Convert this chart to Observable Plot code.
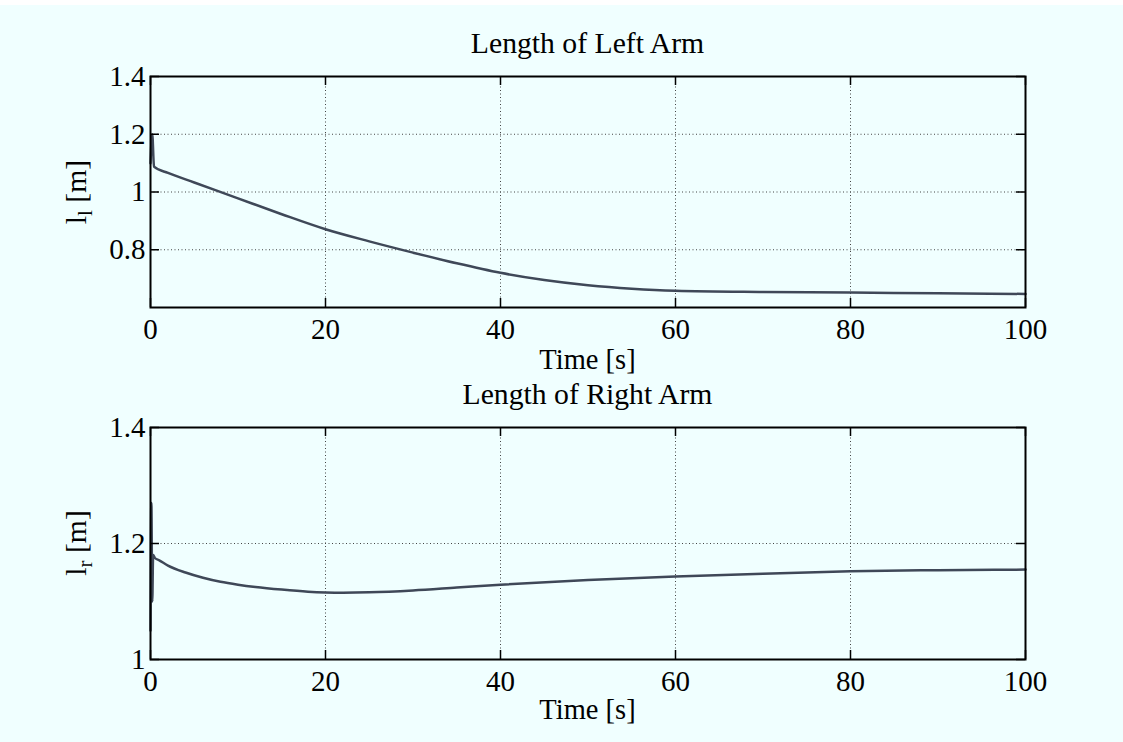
<!DOCTYPE html>
<html>
<head>
<meta charset="utf-8">
<script src="https://cdn.jsdelivr.net/npm/d3@7"></script>
<script src="https://cdn.jsdelivr.net/npm/@observablehq/plot@0.6"></script>
<style>
  html, body { margin: 0; padding: 0; background: #f0ffff; }
  #wrap { position: relative; width: 1123px; height: 742px; background: #f0ffff; overflow: hidden; font-family: "Liberation Serif", "Times New Roman", serif; color: #000; }
  #topstrip { position: absolute; left: 0; top: 0; width: 1123px; height: 5px; background: #ffffff; }
  .panel { position: absolute; left: 0; }
  .title, .xlabel { position: absolute; left: 150px; width: 875px; text-align: center; font-size: 29.7px; line-height: 30px; white-space: nowrap; }
  .xlabel { font-size: 28.5px; }
  .ylabel { position: absolute; font-size: 29.7px; line-height: 30px; white-space: nowrap; transform: translate(-50%, -50%) rotate(-90deg); }
  .ylabel sub { font-size: 21px; vertical-align: -6px; line-height: 0; }
</style>
</head>
<body>
<div id="wrap">
  <div id="topstrip"></div>
  <div class="title" style="top:28px">Length of Left Arm</div>
  <div class="xlabel" style="top:345px">Time [s]</div>
  <div class="title" style="top:379px">Length of Right Arm</div>
  <div class="xlabel" style="top:695px">Time [s]</div>
  <div class="ylabel" style="left:76px; top:192px">l<sub>l</sub> [m]</div>
  <div class="ylabel" style="left:76px; top:543px">l<sub>r</sub> [m]</div>
  <div id="p1" class="panel" style="top:0px"></div>
  <div id="p2" class="panel" style="top:380px"></div>
</div>
<script>
// ---- data ----
const xTicks = [0, 20, 40, 60, 80, 100];

const leftTime = [0, 0.2, 0.4, 2, 5, 10, 15, 20, 25, 30, 35, 40, 45, 50, 55, 60, 70, 80, 90, 100];
const leftLength = [1.10, 1.20, 1.088, 1.066, 1.033, 0.978, 0.923, 0.871, 0.829, 0.79, 0.753, 0.72, 0.695, 0.677, 0.665, 0.658, 0.654, 0.652, 0.649, 0.647];
const leftYTicks = [0.8, 1, 1.2, 1.4];
const leftYDomain = [0.6, 1.4];

const rightTime = [0, 0.1, 0.2, 0.3, 0.5, 1, 2, 4, 6, 8, 10, 12, 15, 18, 20, 22, 25, 30, 35, 40, 50, 60, 70, 80, 90, 100];
const rightLength = [1.05, 1.27, 1.10, 1.18, 1.175, 1.171, 1.162, 1.15, 1.141, 1.134, 1.129, 1.125, 1.1205, 1.117, 1.1157, 1.1152, 1.1158, 1.119, 1.124, 1.129, 1.137, 1.143, 1.148, 1.152, 1.154, 1.155];
const rightYTicks = [1, 1.2, 1.4];
const rightYDomain = [1, 1.4];

function panel({times, values, yDomain, yTicks, height, marginTop, marginBottom}) {
  const width = 1123, marginLeft = 150, marginRight = 98;
  const innerH = height - marginTop - marginBottom;
  const innerW = width - marginLeft - marginRight;
  const tickLen = 9;
  const rows = times.map((t, i) => ({t, v: values[i]}));
  const gridX = xTicks.filter(d => d > 0 && d < 100);
  const gridY = yTicks.filter(d => d > yDomain[0] && d < yDomain[1]);
  const ink = {stroke: "black", strokeWidth: 1.5};
  return Plot.plot({
    width, height, marginLeft, marginRight, marginTop, marginBottom,
    style: {background: "transparent", fontFamily: "'Liberation Serif', 'Times New Roman', serif", fontSize: "29px", color: "black", overflow: "visible"},
    x: {domain: [0, 100], ticks: xTicks, tickSize: 0, tickPadding: 11, tickFormat: d => String(d), label: null},
    y: {domain: yDomain, ticks: yTicks, tickSize: 0, tickPadding: 5, tickFormat: d => String(d), label: null},
    marks: [
      Plot.ruleX(gridX, {stroke: "#444", strokeWidth: 1, strokeDasharray: "1,2.5"}),
      Plot.ruleY(gridY, {stroke: "#444", strokeWidth: 1, strokeDasharray: "1,2.5"}),
      Plot.line(rows, {x: "t", y: "v", stroke: "#3f4858", strokeWidth: 2.5, curve: "monotone-x"}),
      Plot.ruleX(xTicks, {...ink, insetBottom: innerH - tickLen}),
      Plot.ruleX(xTicks, {...ink, insetTop: innerH - tickLen}),
      Plot.ruleY(yTicks, {...ink, insetRight: innerW - tickLen}),
      Plot.ruleY(yTicks, {...ink, insetLeft: innerW - tickLen}),
      Plot.frame({stroke: "black", strokeWidth: 2})
    ]
  });
}

document.getElementById("p1").append(panel({
  times: leftTime, values: leftLength, yDomain: leftYDomain, yTicks: leftYTicks,
  height: 345, marginTop: 76, marginBottom: 38
}));
document.getElementById("p2").append(panel({
  times: rightTime, values: rightLength, yDomain: rightYDomain, yTicks: rightYTicks,
  height: 362, marginTop: 47, marginBottom: 83
}));
</script>
</body>
</html>
